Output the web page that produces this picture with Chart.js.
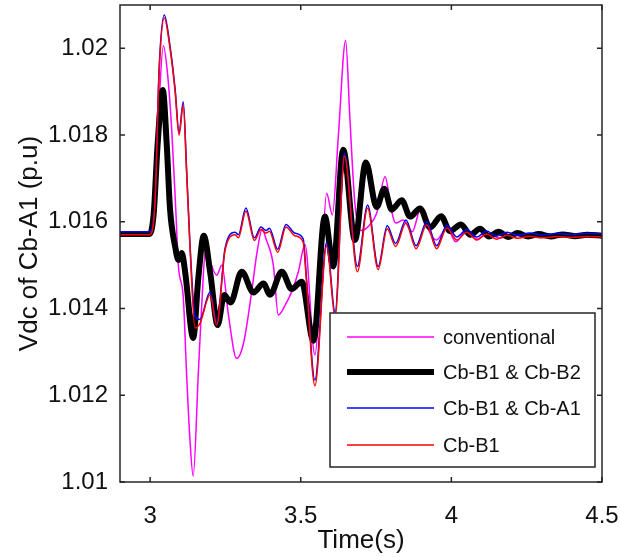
<!DOCTYPE html>
<html>
<head>
<meta charset="utf-8">
<script src="https://cdn.jsdelivr.net/npm/chart.js@4.4.1/dist/chart.umd.min.js"></script>
<style>
  html, body { margin: 0; padding: 0; background: #fff; }
  #wrap { width: 620px; height: 557px; }
</style>
</head>
<body>
<div id="wrap"><canvas id="vdc-chart"></canvas></div>
<script>
// time axis and Vdc ticks
const xTicks = [3, 3.5, 4, 4.5];
const yTicks = [1.01, 1.012, 1.014, 1.016, 1.018, 1.02];
const yTickLabels = ['1.01', '1.012', '1.014', '1.016', '1.018', '1.02'];

const seriesNames = ['conventional', 'Cb-B1 & Cb-B2', 'Cb-B1 & Cb-A1', 'Cb-B1'];

// conventional control
const tConv = [2.9, 2.998, 3.012, 3.028, 3.044, 3.058, 3.072, 3.085, 3.094, 3.11, 3.121, 3.132, 3.143,
  3.16, 3.171, 3.185, 3.199, 3.221, 3.238, 3.26, 3.287, 3.31, 3.337, 3.355, 3.372, 3.385, 3.409,
  3.4255, 3.45, 3.47, 3.492, 3.514, 3.547, 3.566, 3.586, 3.605, 3.625, 3.649, 3.663, 3.68, 3.7,
  3.725, 3.752, 3.78, 3.8, 3.815, 3.84, 3.87, 3.9, 3.925, 3.951, 3.985, 4.015, 4.05, 4.085, 4.12,
  4.16, 4.2, 4.25, 4.3, 4.4, 4.5];
const vConv = [1.01572, 1.01572, 1.0163, 1.0185, 1.02006, 1.0194, 1.01808, 1.0163, 1.01497, 1.01427,
  1.0125, 1.011, 1.01014, 1.01251, 1.01404, 1.01545, 1.0151, 1.01477, 1.015, 1.01385, 1.01285,
  1.0132, 1.01438, 1.0153, 1.01583, 1.0156, 1.015, 1.01385, 1.0141, 1.01439, 1.01485, 1.01547,
  1.01293, 1.0145, 1.01666, 1.01616, 1.018, 1.02018, 1.0184, 1.0164, 1.0158, 1.0159, 1.0162,
  1.01704, 1.0163, 1.01597, 1.01604, 1.01577, 1.01635, 1.0158, 1.01558, 1.01586, 1.01554, 1.0158,
  1.0156, 1.01574, 1.01562, 1.0157, 1.01564, 1.01568, 1.01566, 1.01567];

// Cb-B1 & Cb-B2
const tB1B2 = [2.9, 2.998, 3.012, 3.025, 3.042, 3.055, 3.066, 3.083, 3.094, 3.105, 3.117, 3.143, 3.16,
  3.178, 3.2, 3.224, 3.246, 3.267, 3.304, 3.343, 3.376, 3.398, 3.437, 3.47, 3.503, 3.542, 3.58,
  3.608, 3.641, 3.68, 3.716, 3.752, 3.777, 3.802, 3.835, 3.863, 3.896, 3.929, 3.966, 3.995, 4.032,
  4.063, 4.095, 4.125, 4.156, 4.19, 4.22, 4.255, 4.29, 4.33, 4.37, 4.41, 4.45, 4.5];
const vB1B2 = [1.01572, 1.01572, 1.0162, 1.0178, 1.01904, 1.0178, 1.0163, 1.01543, 1.01512, 1.01528,
  1.0148, 1.01332, 1.0147, 1.01568, 1.0148, 1.01362, 1.01431, 1.01414, 1.01485, 1.01437, 1.01458,
  1.01432, 1.01485, 1.01445, 1.01462, 1.01326, 1.01612, 1.01497, 1.01766, 1.01558, 1.01737,
  1.01634, 1.01676, 1.01628, 1.0165, 1.01612, 1.01631, 1.01587, 1.01613, 1.01579, 1.01594, 1.0157,
  1.01584, 1.01566, 1.01577, 1.01565, 1.01574, 1.01566, 1.01572, 1.01566, 1.01571, 1.01567,
  1.0157, 1.01568];

// Cb-B1 & Cb-A1 and Cb-B1 share one time base
const tCb = [2.9, 2.998, 3.016, 3.03, 3.047, 3.066, 3.083, 3.096, 3.11, 3.121, 3.132, 3.149, 3.165,
  3.199, 3.221, 3.249, 3.282, 3.293, 3.318, 3.346, 3.368, 3.385, 3.396, 3.4235, 3.451, 3.48, 3.508,
  3.519, 3.547, 3.586, 3.614, 3.645, 3.688, 3.722, 3.757, 3.787, 3.815, 3.849, 3.883, 3.918, 3.951,
  3.985, 4.018, 4.051, 4.084, 4.117, 4.15, 4.185, 4.22, 4.26, 4.3, 4.35, 4.4, 4.45, 4.5];
const vB1A1 = [1.01577, 1.01577, 1.01645, 1.01955, 1.02077, 1.02006, 1.01906, 1.01806, 1.01877,
  1.01722, 1.01553, 1.01383, 1.01375, 1.01438, 1.01368, 1.0154, 1.01576, 1.0157, 1.01632, 1.01563,
  1.01588, 1.0158, 1.01585, 1.01537, 1.01594, 1.01574, 1.01561, 1.0147, 1.01235, 1.01553, 1.01392,
  1.01758, 1.01497, 1.01639, 1.01497, 1.01591, 1.0155, 1.01604, 1.01545, 1.016, 1.01545, 1.01592,
  1.01565, 1.01582, 1.01565, 1.01579, 1.01567, 1.01576, 1.01569, 1.01574, 1.0157, 1.01573,
  1.01571, 1.01573, 1.01572];
const vB1 = [1.0157, 1.0157, 1.01639, 1.01947, 1.0207, 1.02, 1.019, 1.018, 1.0187, 1.01716, 1.01547,
  1.01355, 1.01365, 1.01431, 1.01362, 1.01535, 1.0157, 1.01563, 1.01625, 1.01557, 1.01582, 1.01574,
  1.01578, 1.0153, 1.01588, 1.01568, 1.01553, 1.01462, 1.01222, 1.01545, 1.0138, 1.01752, 1.01485,
  1.01632, 1.0149, 1.01584, 1.01543, 1.01597, 1.01538, 1.01593, 1.01538, 1.01586, 1.01558,
  1.01576, 1.01558, 1.01572, 1.0156, 1.01569, 1.01562, 1.01567, 1.01563, 1.01566, 1.01564,
  1.01566, 1.01565];

const FONT = '"Liberation Sans", Arial, sans-serif';

const toPoints = (times, values) => times.map((t, i) => ({ x: t, y: values[i] }));

// MATLAB-style box with inward ticks on all four sides
const axisFrame = {
  id: 'axisFrame',
  afterDatasetsDraw(chart) {
    const { ctx, chartArea: a, scales: { x, y } } = chart;
    const len = 5;
    ctx.save();
    ctx.strokeStyle = '#262626';
    ctx.lineWidth = 1.5;
    ctx.beginPath();
    xTicks.forEach((v) => {
      const px = x.getPixelForValue(v);
      ctx.moveTo(px, a.bottom);
      ctx.lineTo(px, a.bottom - len);
      ctx.moveTo(px, a.top);
      ctx.lineTo(px, a.top + len);
    });
    yTicks.forEach((v) => {
      const py = y.getPixelForValue(v);
      ctx.moveTo(a.left, py);
      ctx.lineTo(a.left + len, py);
      ctx.moveTo(a.right, py);
      ctx.lineTo(a.right - len, py);
    });
    ctx.stroke();
    ctx.strokeRect(a.left, a.top, a.right - a.left, a.bottom - a.top);
    ctx.restore();
  },
};

// boxed legend in the lower right of the axes
const boxLegend = {
  id: 'boxLegend',
  afterDraw(chart) {
    const { ctx } = chart;
    const box = { left: 330, top: 313, right: 595, bottom: 467 };
    const rows = [337, 372, 408, 445];
    ctx.save();
    ctx.fillStyle = '#fff';
    ctx.fillRect(box.left, box.top, box.right - box.left, box.bottom - box.top);
    ctx.strokeStyle = '#262626';
    ctx.lineWidth = 1.5;
    ctx.strokeRect(box.left, box.top, box.right - box.left, box.bottom - box.top);
    ctx.font = '20px ' + FONT;
    ctx.textBaseline = 'middle';
    ctx.textAlign = 'left';
    chart.data.datasets.forEach((ds, i) => {
      const yy = rows[i];
      ctx.strokeStyle = ds.borderColor;
      ctx.lineWidth = ds.borderWidth;
      ctx.beginPath();
      ctx.moveTo(347, yy);
      ctx.lineTo(434, yy);
      ctx.stroke();
      ctx.fillStyle = '#111';
      ctx.fillText(ds.label, 443, yy + 1);
    });
    ctx.restore();
  },
};

new Chart(document.getElementById('vdc-chart'), {
  type: 'line',
  data: {
    datasets: [
      { label: seriesNames[0], data: toPoints(tConv, vConv), borderColor: '#ff00ff', borderWidth: 1.5, order: 4 },
      { label: seriesNames[1], data: toPoints(tB1B2, vB1B2), borderColor: '#000000', borderWidth: 6, order: 3 },
      { label: seriesNames[2], data: toPoints(tCb, vB1A1), borderColor: '#0000ff', borderWidth: 1.5, order: 2 },
      { label: seriesNames[3], data: toPoints(tCb, vB1), borderColor: '#ff0000', borderWidth: 1.5, order: 1 },
    ],
  },
  options: {
    responsive: true,
    maintainAspectRatio: false,
    animation: false,
    layout: { padding: { top: 5, right: 18, left: 0, bottom: 0 } },
    elements: {
      point: { radius: 0 },
      line: { cubicInterpolationMode: 'monotone', borderJoinStyle: 'round', borderCapStyle: 'round' },
    },
    plugins: {
      legend: { display: false },
      tooltip: { enabled: false },
    },
    scales: {
      x: {
        type: 'linear',
        min: 2.9,
        max: 4.5,
        grid: { display: false, drawTicks: false },
        border: { display: false },
        afterBuildTicks: (scale) => {
          scale.ticks = xTicks.map((v) => ({ value: v }));
        },
        afterFit: (scale) => {
          scale.height = 75;
          scale.paddingLeft = 0;
          scale.paddingRight = 0;
        },
        ticks: {
          color: '#111',
          padding: 20,
          maxRotation: 0,
          autoSkip: false,
          font: { size: 24, family: FONT },
          callback: (value) => String(value),
        },
        title: {
          display: true,
          text: 'Time(s)',
          color: '#111',
          font: { size: 26, family: FONT },
          padding: { top: 0, bottom: 1 },
        },
      },
      y: {
        type: 'linear',
        min: 1.01,
        max: 1.021,
        grid: { display: false, drawTicks: false },
        border: { display: false },
        afterBuildTicks: (scale) => {
          scale.ticks = yTicks.map((v) => ({ value: v }));
        },
        afterFit: (scale) => {
          scale.width = 120;
          scale.paddingTop = 0;
          scale.paddingBottom = 0;
        },
        ticks: {
          color: '#111',
          padding: 12,
          autoSkip: false,
          font: { size: 24, family: FONT },
          callback: (value, index) => yTickLabels[index],
        },
        title: {
          display: true,
          text: 'Vdc of Cb-A1 (p.u)',
          color: '#111',
          font: { size: 26, family: FONT },
          padding: { top: 14, bottom: 0 },
        },
      },
    },
  },
  plugins: [axisFrame, boxLegend],
});
</script>
</body>
</html>
